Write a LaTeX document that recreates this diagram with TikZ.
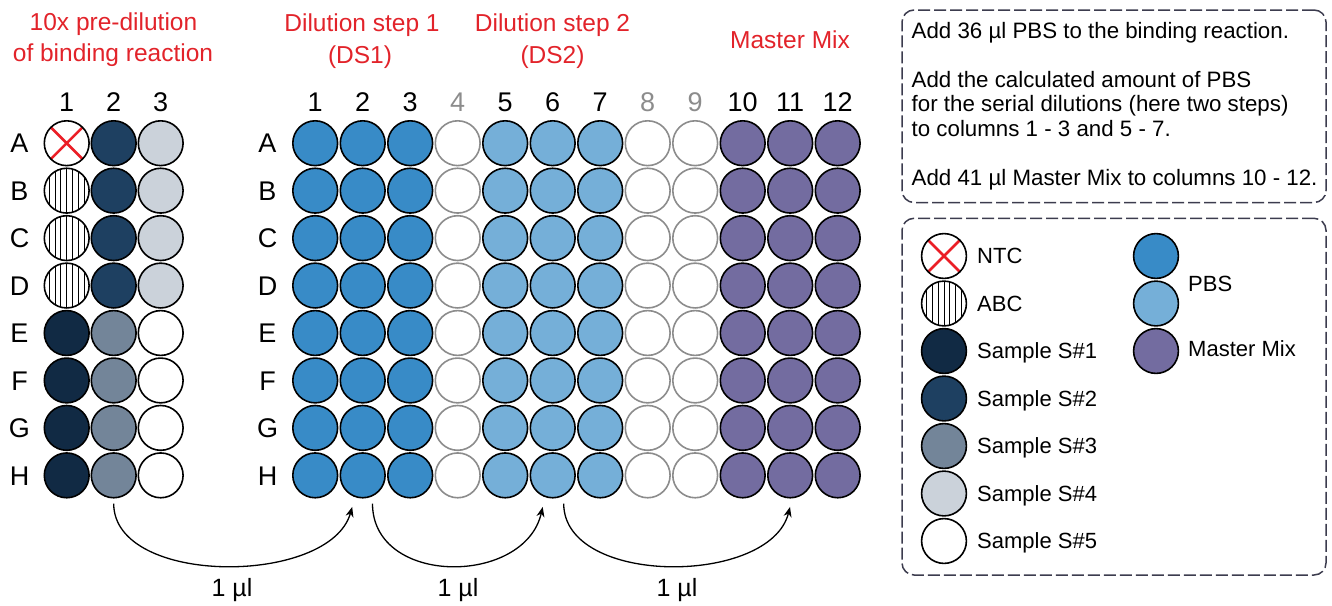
\documentclass[tikz,border=0pt]{standalone}
\usepackage{fontspec}
\setmainfont{Liberation Sans}
\usetikzlibrary{calc,arrows.meta}

\definecolor{titlered}{RGB}{226,35,42}
\definecolor{crossred}{RGB}{235,30,38}
\definecolor{sone}{RGB}{17,42,68}
\definecolor{stwo}{RGB}{30,64,97}
\definecolor{sthree}{RGB}{115,133,153}
\definecolor{sfour}{RGB}{203,210,218}
\definecolor{pbsdark}{RGB}{56,139,199}
\definecolor{pbslight}{RGB}{117,175,216}
\definecolor{mmix}{RGB}{115,108,160}
\definecolor{emptyrim}{RGB}{140,140,140}
\definecolor{panelrim}{RGB}{60,60,78}

\begin{document}
\begin{tikzpicture}[x=1pt,y=-1pt,
  well/.style={circle,draw=black,line width=1.6pt,minimum size=44.8pt,inner sep=0pt},
  ntcwell/.style={well,fill=white,
    path picture={\draw[crossred,line width=2.6pt]
      (path picture bounding box.north west) -- (path picture bounding box.south east)
      (path picture bounding box.north east) -- (path picture bounding box.south west);}},
  abcwell/.style={well,fill=white,
    path picture={\foreach \dx in {-17.4,-11.6,-5.8,0,5.8,11.6,17.4}
      \draw[line width=1pt] ([xshift=\dx pt]path picture bounding box.north) -- ([xshift=\dx pt]path picture bounding box.south);}},
  sonewell/.style={well,fill=sone},
  stwowell/.style={well,fill=stwo},
  sthreewell/.style={well,fill=sthree},
  sfourwell/.style={well,fill=sfour},
  sfivewell/.style={well,fill=white},
  pbsdarkwell/.style={well,fill=pbsdark},
  pbslightwell/.style={well,fill=pbslight},
  mmwell/.style={well,fill=mmix},
  emptywell/.style={well,draw=emptyrim,fill=white},
  lab/.style={font=\fontsize{27}{32}\selectfont,anchor=base,inner sep=0pt},
  title/.style={font=\fontsize{24.5}{30}\selectfont,text=titlered,anchor=base,inner sep=0pt},
  legtext/.style={font=\fontsize{22}{26}\selectfont,anchor=base west,inner sep=0pt},
  notetext/.style={font=\fontsize{22.3}{26}\selectfont,anchor=base west,inner sep=0pt},
  vol/.style={font=\fontsize{25}{30}\selectfont,anchor=base,inner sep=0pt},
  panel/.style={draw=panelrim,line width=1.5pt,dash pattern=on 12pt off 4pt,rounded corners=12pt,inner sep=0pt},
  flow/.style={line width=1.3pt,-{Stealth[length=10pt,width=8pt]}}
]
\useasboundingbox (0,0) rectangle (1332,605);

% ---- headings ----
\node[title] (h1a) at (113.5,30.5) {10x pre-dilution};
\node[title] (h1b) at (113,61) {of binding reaction};
\node[title] (h2a) at (362,31.5) {Dilution step 1};
\node[title] (h2b) at (360,63) {(DS1)};
\node[title] (h3a) at (552.5,31.5) {Dilution step 2};
\node[title] (h3b) at (552.5,63) {(DS2)};
\node[title] (h4) at (790,48) {Master Mix};

% ---- pre-dilution plate ----
\foreach \c in {1,2,3}
  \node[lab] (Lc\c) at ({66.7+47*(\c-1)},111) {\c};
\foreach \r/\a/\b/\cc [count=\i from 0] in
  {A/ntcwell/stwowell/sfourwell, B/abcwell/stwowell/sfourwell,
   C/abcwell/stwowell/sfourwell, D/abcwell/stwowell/sfourwell,
   E/sonewell/sthreewell/sfivewell, F/sonewell/sthreewell/sfivewell,
   G/sonewell/sthreewell/sfivewell, H/sonewell/sthreewell/sfivewell} {
  \pgfmathsetmacro\yy{143.2+47.45*\i}
  \node[lab] (Lr\r) at (19.5,\yy+9.7) {\r};
  \node[\a] (L-\r-1) at (66.7,\yy) {};
  \node[\b] (L-\r-2) at (113.7,\yy) {};
  \node[\cc] (L-\r-3) at (160.7,\yy) {};
}

% ---- dilution / master mix plate ----
\foreach \r [count=\i from 0] in {A,B,C,D,E,F,G,H}
  \node[lab] (Rr\r) at (267.5,{143.2+47.45*\i+9.7}) {\r};
\foreach \c/\st/\tc in {1/pbsdarkwell/black,2/pbsdarkwell/black,3/pbsdarkwell/black,
   4/emptywell/emptyrim,5/pbslightwell/black,6/pbslightwell/black,7/pbslightwell/black,
   8/emptywell/emptyrim,9/emptywell/emptyrim,10/mmwell/black,11/mmwell/black,12/mmwell/black} {
  \pgfmathsetmacro\xx{315.2+47.5*(\c-1)}
  \node[lab,text=\tc] (Rc\c) at (\xx,111) {\c};
  \foreach \r [count=\i from 0] in {A,B,C,D,E,F,G,H}
    \node[\st] (R-\r-\c) at (\xx,{143.2+47.45*\i}) {};
}

% ---- transfer arrows ----
\draw[flow] ($(L-H-2.south)+(0,5)$) .. controls ($(L-H-2.south)+(0,88)$) and ($(R-H-2.south)+(-32.7,87.4)$) .. ($(R-H-2.south)+(-10.5,8.4)$);
\draw[flow] ($(R-H-2.south)+(9.8,5)$) .. controls ($(R-H-2.south)+(9.8,88)$) and ($(R-H-6.south)+(-28,87.4)$) .. ($(R-H-6.south)+(-10,8.4)$);
\draw[flow] ($(R-H-6.south)+(11,5)$) .. controls ($(R-H-6.south)+(11,88)$) and ($(R-H-11.south)+(-20,87.4)$) .. ($(R-H-11.south)+(-0.2,8.4)$);
\node[vol] (v1) at (232,596) {1 µl};
\node[vol] (v2) at (458,596) {1 µl};
\node[vol] (v3) at (677,596) {1 µl};

% ---- instructions panel ----
\node[panel,minimum width=424pt,minimum height=192.5pt] (notes) at (1114,106.25) {};
\node[notetext] (n1) at (911.5,38.5) {Add 36 µl PBS to the binding reaction.};
\node[notetext] (n2) at (911.5,87.3) {Add the calculated amount of PBS};
\node[notetext] (n3) at (911.5,111.7) {for the serial dilutions (here two steps)};
\node[notetext] (n4) at (911.5,136.1) {to columns 1 - 3 and 5 - 7.};
\node[notetext] (n5) at (911.5,185) {Add 41 µl Master Mix to columns 10 - 12.};

% ---- legend panel ----
\node[panel,minimum width=424pt,minimum height=356.7pt] (legend) at (1114,396.65) {};
\node[ntcwell] (k1) at (944,256) {};
\node[abcwell] (k2) at (944,303.5) {};
\node[sonewell] (k3) at (944,351) {};
\node[stwowell] (k4) at (944,398.5) {};
\node[sthreewell] (k5) at (944,446) {};
\node[sfourwell] (k6) at (944,493.5) {};
\node[sfivewell] (k7) at (944,541) {};
\node[legtext] (kt1) at (977,263.8) {NTC};
\node[legtext] (kt2) at (977,311.3) {ABC};
\node[legtext] (kt3) at (977,358.8) {Sample S\#1};
\node[legtext] (kt4) at (977,406.3) {Sample S\#2};
\node[legtext] (kt5) at (977,453.8) {Sample S\#3};
\node[legtext] (kt6) at (977,501.3) {Sample S\#4};
\node[legtext] (kt7) at (977,548.8) {Sample S\#5};
\node[pbsdarkwell] (k8) at (1156,256) {};
\node[pbslightwell] (k9) at (1156,303.5) {};
\node[mmwell] (k10) at (1156,351) {};
\node[legtext] (kt8) at (1188,291.8) {PBS};
\node[legtext] (kt10) at (1188,356.8) {Master Mix};
\end{tikzpicture}
\end{document}
